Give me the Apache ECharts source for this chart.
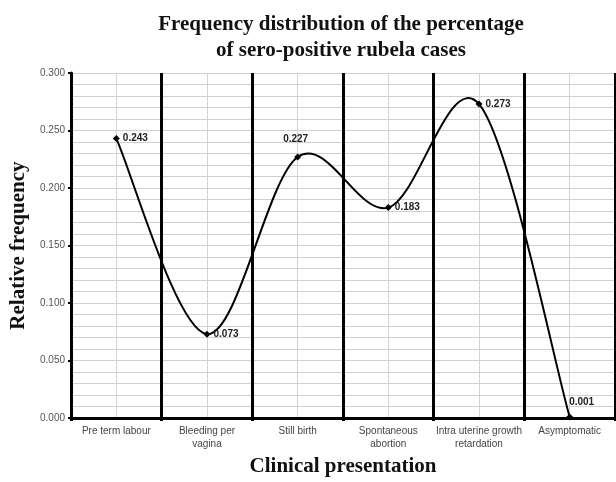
<!DOCTYPE html>
<html><head><meta charset="utf-8">
<script src="https://cdn.jsdelivr.net/npm/echarts@6/dist/echarts.min.js"></script>
<style>html,body{margin:0;padding:0;background:#fff}#c{width:616px;height:482px}</style>
</head><body><div id="c"></div>
<script>
var categories = ['Pre term labour', 'Bleeding per\nvagina', 'Still birth', 'Spontaneous\nabortion', 'Intra uterine growth\nretardation', 'Asymptomatic'];
var values = [0.243, 0.073, 0.227, 0.183, 0.273, 0.001];
var titleText = 'Frequency distribution of the percentage\nof sero-positive rubela cases';
var xName = 'Clinical presentation';
var yName = 'Relative frequency';

var chart = echarts.init(document.getElementById('c'), null, {renderer: 'canvas'});
var n = values.length;
var pointData = values.map(function (v, i) {
  var lab = {position: 'right'};
  if (i === 5) { lab = {position: 'top', offset: [12, -3]}; }
  if (i === 2) { lab = {position: 'top', offset: [-2, -6]}; }
  return {value: v, label: lab};
});
var curveData = values.map(function (v, i) { return [i, v]; });

function renderSegment(params, api) {
  var i = params.dataIndex;
  if (i >= n - 1) { return null; }
  function P(k) {
    k = Math.max(0, Math.min(n - 1, k));
    return api.coord([k, values[k]]);
  }
  var p0 = P(i - 1), p1 = P(i), p2 = P(i + 1), p3 = P(i + 2);
  var t = 1 / 6;
  return {
    type: 'bezierCurve',
    shape: {
      x1: p1[0], y1: p1[1], x2: p2[0], y2: p2[1],
      cpx1: p1[0] + (p2[0] - p0[0]) * t, cpy1: p1[1] + (p2[1] - p0[1]) * t,
      cpx2: p2[0] - (p3[0] - p1[0]) * t, cpy2: p2[1] - (p3[1] - p1[1]) * t
    },
    style: {stroke: '#000', lineWidth: 2, fill: null}
  };
}

chart.setOption({
  backgroundColor: '#fff',
  animation: false,
  title: {
    text: titleText, left: 336, top: 7, textAlign: 'center',
    textStyle: {fontFamily: 'Liberation Serif', fontWeight: 'bold', fontSize: 21, lineHeight: 26, color: '#111'}
  },
  grid: {left: 71, right: 1, top: 73, bottom: 56},
  xAxis: [{
    type: 'category', data: categories, boundaryGap: true,
    axisLine: {lineStyle: {color: '#000', width: 3}},
    axisTick: {show: true, length: 3, lineStyle: {color: '#000', width: 3}},
    axisLabel: {color: '#444', fontFamily: 'Liberation Sans', fontSize: 10, lineHeight: 13, margin: 7, interval: 0},
    splitLine: {show: true, lineStyle: {color: '#000', width: 3}},
    name: xName, nameLocation: 'middle', nameGap: 36,
    nameTextStyle: {fontFamily: 'Liberation Serif', fontWeight: 'bold', fontSize: 21, color: '#111'},
    z: 3
  }, {
    type: 'value', min: 0, max: 12, interval: 1, show: true, position: 'bottom',
    axisLine: {show: false}, axisTick: {show: false}, axisLabel: {show: false},
    splitLine: {show: true, lineStyle: {color: '#d2d2d2', width: 1}}
  }],
  yAxis: {
    type: 'value', min: 0, max: 0.3, interval: 0.05,
    axisLine: {show: true, lineStyle: {color: '#000', width: 3}},
    axisTick: {show: true, length: 3, lineStyle: {color: '#000', width: 2}},
    axisLabel: {color: '#555', fontFamily: 'Liberation Sans', fontSize: 10, margin: 6,
      formatter: function (v) { return v.toFixed(3); }},
    splitLine: {show: true, lineStyle: {color: '#cfcfcf', width: 1}},
    minorTick: {show: false, splitNumber: 5},
    minorSplitLine: {show: true, lineStyle: {color: '#cfcfcf', width: 1}},
    name: yName, nameLocation: 'middle', nameGap: 33,
    nameTextStyle: {fontFamily: 'Liberation Serif', fontWeight: 'bold', fontSize: 21, color: '#111'}
  },
  series: [{
    type: 'custom', xAxisIndex: 0, yAxisIndex: 0, data: curveData,
    renderItem: renderSegment, clip: false, z: 4, silent: true
  }, {
    type: 'line', xAxisIndex: 0, data: pointData,
    symbol: 'diamond', symbolSize: 7,
    lineStyle: {opacity: 0},
    itemStyle: {color: '#000'},
    label: {show: true, fontFamily: 'Liberation Sans', fontWeight: 'bold', fontSize: 10, color: '#222', distance: 3,
      formatter: function (p) { return p.value.toFixed(3); }},
    z: 5
  }]
});
</script></body></html>
